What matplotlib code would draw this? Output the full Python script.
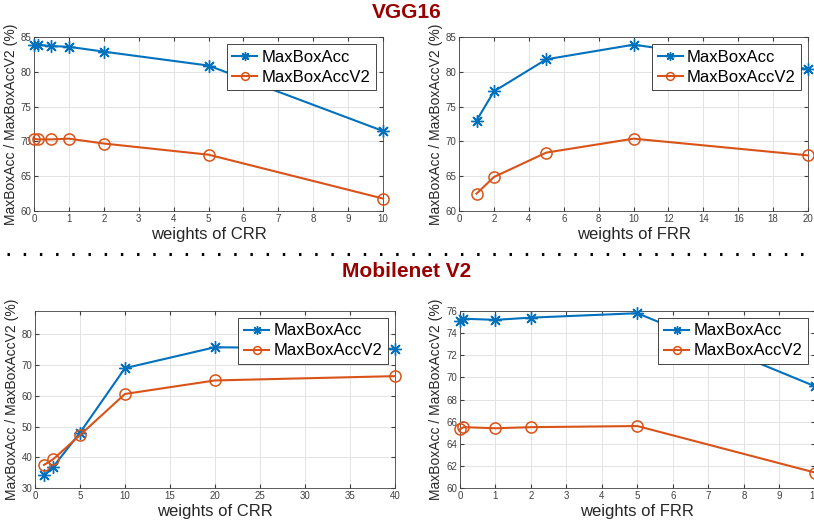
import numpy as np
import matplotlib.pyplot as plt
from matplotlib.lines import Line2D

plt.rcParams['font.family'] = ['Liberation Sans', 'DejaVu Sans']

# VGG16, weights of CRR
vgg_crr_x = [0, 0.1, 0.5, 1, 2, 5, 10]
vgg_crr_acc = [83.9, 83.9, 83.7, 83.6, 82.9, 80.9, 71.5]
vgg_crr_acc2 = [70.4, 70.3, 70.3, 70.4, 69.7, 68.1, 61.8]

# VGG16, weights of FRR
vgg_frr_x = [1, 2, 5, 10, 20]
vgg_frr_acc = [73.0, 77.2, 81.8, 83.9, 80.4]
vgg_frr_acc2 = [62.5, 64.9, 68.4, 70.4, 68.0]

# Mobilenet V2, weights of CRR
mob_crr_x = [1, 2, 5, 10, 20, 40]
mob_crr_acc = [34.2, 36.8, 48.0, 69.0, 75.8, 75.3]
mob_crr_acc2 = [37.5, 39.3, 47.2, 60.6, 65.0, 66.4]

# Mobilenet V2, weights of FRR
mob_frr_x = [0, 0.1, 1, 2, 5, 10]
mob_frr_acc = [75.1, 75.3, 75.2, 75.4, 75.8, 69.2]
mob_frr_acc2 = [65.3, 65.5, 65.4, 65.5, 65.6, 61.4]

BLUE = '#0072BD'
ORANGE = '#D95319'
TITLE_RED = '#990000'
ASTERISK = (8, 2, 0)

fig = plt.figure(figsize=(8.14, 5.29), dpi=100)


def panel(rect, x, acc, acc2, xlabel, xlim, xticks, ylim, yticks):
    ax = fig.add_axes(rect)
    ax.plot(x, acc, color=BLUE, lw=1.5, marker=ASTERISK, ms=9, mew=1.0,
            label='MaxBoxAcc', clip_on=False, zorder=3)
    ax.plot(x, acc2, color=ORANGE, lw=1.5, marker='o', ms=8, mfc='none',
            mew=1.1, label='MaxBoxAccV2', clip_on=False, zorder=3)
    ax.set_xlim(xlim)
    ax.set_ylim(ylim)
    ax.set_xticks(xticks)
    ax.set_yticks(yticks)
    ax.grid(True, color='#e3e3e3', lw=0.7)
    ax.set_axisbelow(True)
    ax.tick_params(direction='in', length=3, labelsize=7, colors='#404040',
                   top=True, right=True, pad=2)
    for s in ax.spines.values():
        s.set_color('#404040')
        s.set_linewidth(0.6)
    ax.set_xlabel(xlabel, fontsize=12, color='#262626', labelpad=2)
    ax.set_ylabel('MaxBoxAcc / MaxBoxAccV2 (%)', fontsize=10,
                  color='#262626', labelpad=2)
    leg = ax.legend(loc='upper right', fontsize=12, frameon=True,
                    fancybox=False, edgecolor='#262626', framealpha=1,
                    borderpad=0.35, handlelength=1.5, handletextpad=0.25,
                    labelspacing=0.3, borderaxespad=0.4, markerscale=0.7)
    leg.get_frame().set_linewidth(0.6)
    leg.set_zorder(5)
    return ax


panel([0.0418, 0.601, 0.4287, 0.329], vgg_crr_x, vgg_crr_acc, vgg_crr_acc2,
      'weights of CRR', (0, 10), range(0, 11), (60, 85), range(60, 86, 5))
panel([0.564, 0.601, 0.4287, 0.329], vgg_frr_x, vgg_frr_acc, vgg_frr_acc2,
      'weights of FRR', (0, 20), range(0, 21, 2), (60, 85), range(60, 86, 5))
panel([0.043, 0.0775, 0.442, 0.3346], mob_crr_x, mob_crr_acc, mob_crr_acc2,
      'weights of CRR', (0, 40), range(0, 41, 5), (30, 87.6), range(30, 81, 10))
panel([0.565, 0.0775, 0.436, 0.3346], mob_frr_x, mob_frr_acc, mob_frr_acc2,
      'weights of FRR', (0, 10), range(0, 11), (60, 76), range(60, 77, 2))

fig.text(0.5, 0.977, 'VGG16', ha='center', va='center', fontsize=15,
         fontweight='bold', color=TITLE_RED)
fig.text(0.5, 0.486, 'Mobilenet V2', ha='center', va='center', fontsize=15,
         fontweight='bold', color=TITLE_RED)

# dotted separator
fig.add_artist(Line2D([0.008, 0.995], [0.52, 0.52], transform=fig.transFigure,
                      color='black', lw=2.2, linestyle=(0, (0.8, 4.5))))

fig.savefig('out.png', dpi=100)
